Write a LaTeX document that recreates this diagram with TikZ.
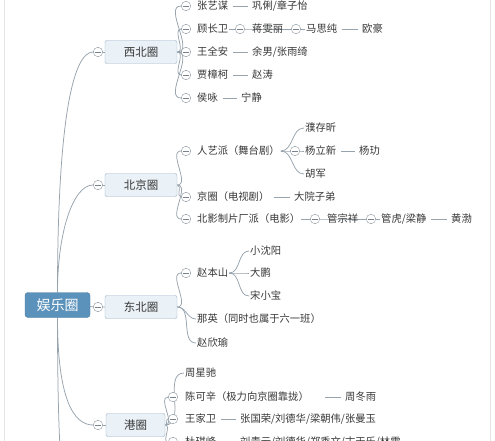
\documentclass[tikz,border=0pt]{standalone}
\usepackage{fontspec}
\setmainfont{Noto Sans CJK SC}
\usetikzlibrary{positioning,backgrounds}
\definecolor{rootblue}{HTML}{5B92BC}
\definecolor{topicfill}{HTML}{EAF1F7}
\definecolor{topicline}{HTML}{9DB2C6}
\definecolor{linkgray}{HTML}{97A3AD}
\definecolor{inkgray}{HTML}{383838}
\tikzset{
  font=\fontsize{10.3pt}{12pt}\selectfont
}

\begin{document}
\begin{tikzpicture}[x=1pt,y=-1pt,
  root/.style={rectangle,rounded corners=3pt,fill=rootblue,draw=rootblue!85!black,text=white,
    minimum width=65pt,minimum height=25pt,font=\fontsize{14pt}{16pt}\selectfont},
  topic/.style={rectangle,rounded corners=2pt,fill=topicfill,draw=topicline,text=inkgray,
    minimum width=72pt,minimum height=23pt,font=\fontsize{11.5pt}{13pt}\selectfont},
  leaf/.style={anchor=west,inner sep=1pt,text=inkgray},
  fold/.style={circle,draw=linkgray!90!black,fill=white,minimum size=9.5pt,inner sep=0pt,
    path picture={\draw[linkgray!80!black,line width=0.6pt]
      ([xshift=2pt]path picture bounding box.west) -- ([xshift=-2pt]path picture bounding box.east);}},
  link/.style={draw=linkgray,line width=0.75pt},
  dashlink/.style={link,shorten <=3.5pt,shorten >=3.5pt}]
\useasboundingbox (0,0) rectangle (495,441);
\clip (0,0) rectangle (495,441);

% root and topics
\node[root] (root) at (57.5,305) {娱乐圈};
\node[fold] (fxb) at (98,52) {};
\node[topic] (xb) at (141,52) {西北圈};
\node[fold] (fbj) at (98,185) {};
\node[topic] (bj) at (141,185) {北京圈};
\node[fold] (fdb) at (98,307) {};
\node[topic] (db) at (141,307) {东北圈};
\node[fold] (fhk) at (98,425) {};
\node[topic,minimum width=59pt] (hk) at (135.5,425) {港圈};
\coordinate (next) at (98,560);

% 西北圈
\node[fold] (fzy) at (186,6) {};
\node[leaf] (zy) at (196,6) {张艺谋};
\node[leaf] (gl) at (251,6) {巩俐/章子怡};
\node[fold] (fgc) at (186,29) {};
\node[leaf] (gc) at (196,29) {顾长卫};
\node[fold] (fgc2) at (240,29) {};
\node[leaf] (jw) at (251,29) {蒋雯丽};
\node[fold] (fjw) at (296,29) {};
\node[leaf] (ms) at (305,29) {马思纯};
\node[leaf] (oh) at (361,29) {欧豪};
\node[fold] (fwq) at (186,52) {};
\node[leaf] (wq) at (196,52) {王全安};
\node[leaf] (yn) at (251,52) {余男/张雨绮};
\node[fold] (fjz) at (186,75) {};
\node[leaf] (jz) at (196,75) {贾樟柯};
\node[leaf] (zt) at (251,75) {赵涛};
\node[fold] (fhy) at (186,98) {};
\node[leaf] (hy) at (196,98) {侯咏};
\node[leaf] (nj) at (240,98) {宁静};

% 北京圈
\node[fold] (fry) at (186,151) {};
\node[leaf] (ry) at (196,151) {人艺派（舞台剧）};
\node[fold] (fry2) at (295,151) {};
\node[leaf] (pc) at (304,128) {濮存昕};
\node[leaf] (yl) at (304,151) {杨立新};
\node[leaf] (yg) at (358,151) {杨玏};
\node[leaf] (hj) at (304,174) {胡军};
\node[fold] (fjq) at (186,197) {};
\node[leaf] (jq) at (196,197) {京圈（电视剧）};
\node[leaf] (dy) at (293,197) {大院子弟};
\node[fold] (fby) at (186,219) {};
\node[leaf] (by) at (196,219) {北影制片厂派（电影）};
\node[fold] (fby2) at (315,219) {};
\node[leaf] (gz) at (326,219) {管宗祥};
\node[fold] (fgz) at (371,219) {};
\node[leaf] (gh) at (380,219) {管虎/梁静};
\node[leaf] (hb) at (450,219) {黄渤};

% 东北圈
\node[fold] (fzb) at (186,273) {};
\node[leaf] (zb) at (196,273) {赵本山};
\node[leaf] (xs) at (249,251) {小沈阳};
\node[leaf] (dp) at (249,273) {大鹏};
\node[leaf] (sx) at (249,296) {宋小宝};
\node[leaf] (ny) at (196,319) {那英（同时也属于六一班）};
\node[leaf] (zx) at (196,343) {赵欣瑜};

% 港圈
\node[leaf] (zxc) at (184,373) {周星驰};
\node[fold] (fck) at (173,397) {};
\node[leaf] (ck) at (184,397) {陈可辛（极力向京圈靠拢）};
\node[leaf] (zd) at (344,397) {周冬雨};
\node[fold] (fwj) at (173,419) {};
\node[leaf] (wj) at (184,419) {王家卫};
\node[leaf] (zg) at (239,419) {张国荣/刘德华/梁朝伟/张曼玉};
\node[fold] (fdq) at (173,442) {};
\node[leaf] (dq) at (184,442) {杜琪峰};
\node[leaf] (lq) at (239,442) {刘青云/刘德华/郑秀文/古天乐/林雪};

\begin{scope}[on background layer]
\fill[white] (0,0) rectangle (495,441);
\draw[black!10] (4,0) -- (4,441) (490,0) -- (490,441);
% trunk
\draw[link] (root.north) .. controls +(0,-172) and +(-20,0) .. (fxb.west);
\draw[link] (root.north) .. controls +(0,-60) and +(-20,0) .. (fbj.west);
\draw[link] (root.south) .. controls +(0,80) and +(-20,0) .. (fhk.west);
\draw[link] (root.south) .. controls +(0,200) and +(-30,0) .. (next);
\draw[link] (root) -- (fdb) -- (db);
\draw[link] (fxb) -- (xb) (fbj) -- (bj) (fhk) -- (hk);
% branches
\foreach \c in {fzy,fgc,fwq,fjz,fhy}
  \draw[link] (xb.east) to[out=0,in=180] (\c.west);
\foreach \c in {fry,fjq,fby}
  \draw[link] (bj.east) to[out=0,in=180] (\c.west);
\foreach \c in {fzb,ny,zx}
  \draw[link] (db.east) to[out=0,in=180] (\c.west);
\foreach \c in {zxc,fck,fwj,fdq}
  \draw[link] (hk.east) to[out=0,in=180] (\c.west);
\foreach \c in {pc,yl,hj}
  \draw[link] (ry.east) to[out=0,in=180] (\c.west);
\foreach \c in {xs,dp,sx}
  \draw[link] (zb.east) to[out=0,in=180] (\c.west);
\draw[link] (gc.east) -- (fgc2) -- (jw.west) -- (fjw) -- (ms.west);
\draw[link] (by.east) -- (fby2) -- (gz.west) -- (fgz) -- (gh.west);
\end{scope}
\draw[dashlink] (zy) -- (gl);
\draw[dashlink] (ms) -- (oh);
\draw[dashlink] (wq) -- (yn);
\draw[dashlink] (jz) -- (zt);
\draw[dashlink] (hy) -- (nj);
\draw[dashlink] (yl) -- (yg);
\draw[dashlink] (jq) -- (dy);
\draw[dashlink] (gh) -- (hb);
\draw[dashlink,shorten <=15pt] (ck) -- (zd);
\draw[dashlink] (wj) -- (zg);
\draw[dashlink] (dq) -- (lq);
\end{tikzpicture}
\end{document}
